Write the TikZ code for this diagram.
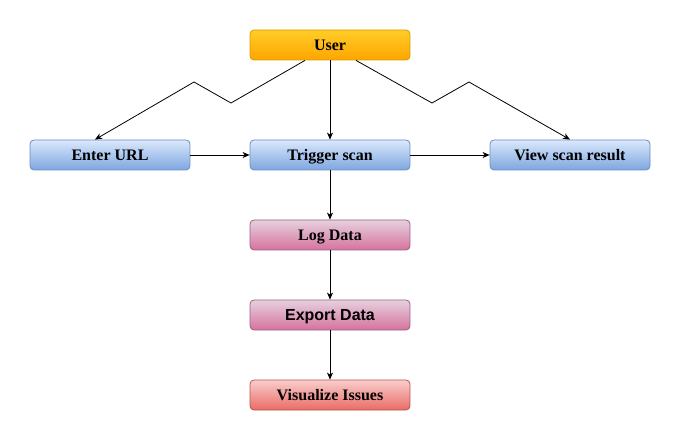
\documentclass[tikz,border=0pt]{standalone}
\usepackage{fontspec}
\setmainfont{Liberation Serif}
\newfontfamily\sansf{Liberation Sans}
\usetikzlibrary{arrows.meta}
\definecolor{usertop}{HTML}{FFCD28}
\definecolor{userbot}{HTML}{FFA500}
\definecolor{userline}{HTML}{D79B00}
\definecolor{bluetop}{HTML}{DAE8FC}
\definecolor{bluebot}{HTML}{7EA6E0}
\definecolor{blueline}{HTML}{6C8EBF}
\definecolor{pinktop}{HTML}{E6D0DE}
\definecolor{pinkbot}{HTML}{D5739D}
\definecolor{pinkline}{HTML}{996185}
\definecolor{redtop}{HTML}{F8CECC}
\definecolor{redbot}{HTML}{EA6B66}
\definecolor{redline}{HTML}{B85450}
\begin{document}
\begin{tikzpicture}[x=1pt,y=-1pt,
  box/.style={rounded corners=4pt, minimum width=160pt, minimum height=30pt, inner sep=0pt, line width=0.8pt, font=\bfseries\fontsize{16}{18}\selectfont, text height=14.6pt, text depth=4pt},
  userbox/.style={box, draw=userline, top color=usertop, bottom color=userbot},
  bluebox/.style={box, draw=blueline, top color=bluetop, bottom color=bluebot},
  pinkbox/.style={box, draw=pinkline, top color=pinktop, bottom color=pinkbot},
  redbox/.style={box, draw=redline, top color=redtop, bottom color=redbot},
  arr/.style={draw=black, line width=0.8pt, -{Stealth[length=7pt,width=6pt,inset=2pt]}}
]
\useasboundingbox (0,0) rectangle (681,441);
\node[userbox] (user) at (330,45) {User};
\node[bluebox] (enter) at (110,155) {Enter URL};
\node[bluebox] (trigger) at (330,155) {Trigger scan};
\node[bluebox] (view) at (570,155) {View scan result};
\node[pinkbox] (log) at (330,235) {Log Data};
\node[pinkbox, font=\sansf\bfseries\fontsize{16}{18}\selectfont, text height=15.5pt, text depth=4pt] (export) at (330,315) {Export Data};
\node[redbox] (vis) at (330,395) {Visualize Issues};
\coordinate (l1) at (231,103);
\coordinate (l2) at (194,82);
\coordinate (r1) at (432,103);
\coordinate (r2) at (469,82);
\draw[arr, line join=miter] ([xshift=-25pt]user.south) -- (l1) -- (l2) -- ([xshift=-15pt]enter.north);
\draw[arr, line join=miter] ([xshift=26pt]user.south) -- (r1) -- (r2) -- (view.north);
\draw[arr] (user) -- (trigger);
\draw[arr] (enter) -- (trigger);
\draw[arr] (trigger) -- (view);
\draw[arr] (trigger) -- (log);
\draw[arr] (log) -- (export);
\draw[arr] (export) -- (vis);
\end{tikzpicture}
\end{document}
